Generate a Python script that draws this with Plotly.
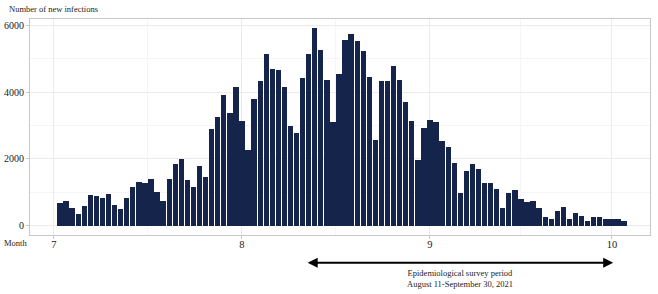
import pandas as pd
import plotly.graph_objects as go

# ---- data ----
first_day = "2021-07-02"
last_day = "2021-10-03"
new_infections = [
    665, 725, 525, 345, 585, 905, 885, 825, 945, 605,
    505, 825, 1145, 1305, 1265, 1405, 1005, 745, 1405, 1845,
    1985, 1370, 1150, 1790, 1450, 2890, 3250, 3930, 3390, 4150,
    3140, 2280, 3810, 4330, 5160, 4710, 4660, 4150, 2980, 2790,
    4440, 5160, 5920, 5260, 4360, 3120, 4540, 5580, 5740, 5540,
    5250, 4450, 2560, 4340, 4340, 4790, 4360, 3700, 3140, 1965,
    2925, 3175, 3105, 2545, 2365, 1865, 965, 1625, 1845, 1685,
    1265, 1265, 1085, 525, 965, 1065, 805, 705, 725, 525,
    245, 185, 445, 545, 210, 365, 285, 125, 245, 265,
    195, 195, 195, 125,
]
dates = pd.date_range(first_day, last_day, freq="D")

month_tick_dates = ["2021-07-01", "2021-08-01", "2021-09-01", "2021-10-01"]
month_tick_labels = ["7", "8", "9", "10"]
month_minor_dates = ["2021-07-16 12:00", "2021-08-16 12:00", "2021-09-16"]
y_tick_vals = [0, 2000, 4000, 6000]
y_minor_vals = [1000, 3000, 5000]

survey_start = pd.Timestamp("2021-08-11")
survey_end = pd.Timestamp("2021-09-30")
survey_label = "Epidemiological survey period<br>August 11-September 30, 2021"

FONT = "Liberation Serif, Times New Roman, serif"

fig = go.Figure()
fig.add_trace(go.Bar(
    x=dates, y=new_infections,
    width=0.88 * 86400000,
    marker=dict(color="#15244a", line=dict(width=0)),
    showlegend=False,
))

fig.update_layout(
    width=658, height=294,
    margin=dict(l=30, r=8, t=19, b=59, autoexpand=False),
    paper_bgcolor="white", plot_bgcolor="white",
    font=dict(family=FONT, size=10, color="#222222"),
    bargap=0,
    xaxis=dict(
        type="date", automargin=False,
        range=["2021-06-27 01:10", "2021-10-07 06:40"],
        tickmode="array", tickvals=month_tick_dates, ticktext=month_tick_labels,
        showgrid=True, gridcolor="#ebebeb", gridwidth=1,
        minor=dict(tickmode="array", tickvals=month_minor_dates, showgrid=True,
                   gridcolor="#f5f5f5", gridwidth=1),
        showline=True, linecolor="#c8c8c8", linewidth=1, mirror=True,
        ticks="outside", ticklen=3, tickcolor="#c8c8c8",
        ticklabelstandoff=-4,
        tickfont=dict(family=FONT, size=10.5, color="#222222"),
        zeroline=False,
    ),
    yaxis=dict(
        automargin=False,
        range=[-285, 6195],
        tickmode="array", tickvals=y_tick_vals,
        showgrid=True, gridcolor="#ebebeb", gridwidth=1,
        minor=dict(tickmode="array", tickvals=y_minor_vals, showgrid=True,
                   gridcolor="#f5f5f5", gridwidth=1),
        showline=True, linecolor="#c8c8c8", linewidth=1, mirror=True,
        ticks="outside", ticklen=3, tickcolor="#c8c8c8",
        tickfont=dict(family=FONT, size=10, color="#222222"),
        zeroline=False,
    ),
)

# axis captions
fig.add_annotation(
    text="Number of new infections", xref="paper", yref="paper",
    x=-0.037, y=1.045, xanchor="left", yanchor="middle", showarrow=False,
    font=dict(family=FONT, size=8.5, color="#222222"),
)
fig.add_annotation(
    text="Month", xref="paper", yref="paper",
    x=-0.045, y=-0.037, xanchor="left", yanchor="middle", showarrow=False,
    font=dict(family=FONT, size=8.5, color="#222222"),
)

# survey period arrow
arrow_start = survey_start + pd.Timedelta(hours=14)
arrow_end = survey_end + pd.Timedelta(hours=29)
fig.add_annotation(
    x=arrow_end, y=-0.128, xref="x", yref="paper",
    ax=arrow_start, ay=0, axref="x", ayref="pixel",
    text="", showarrow=True, arrowhead=2, arrowside="end+start",
    arrowsize=1.0, arrowwidth=2, arrowcolor="black", standoff=0, startstandoff=0,
)
mid = arrow_start + (arrow_end - arrow_start) / 2
fig.add_annotation(
    text=survey_label, x=mid, xref="x", y=-0.2, yref="paper",
    xanchor="center", yanchor="middle", showarrow=False, align="center",
    font=dict(family=FONT, size=8.5, color="#222222"),
)

fig.write_html(
    "out.html",
    config={"displayModeBar": False},
    post_script="document.body.style.margin='0';document.body.style.padding='0';",
)
